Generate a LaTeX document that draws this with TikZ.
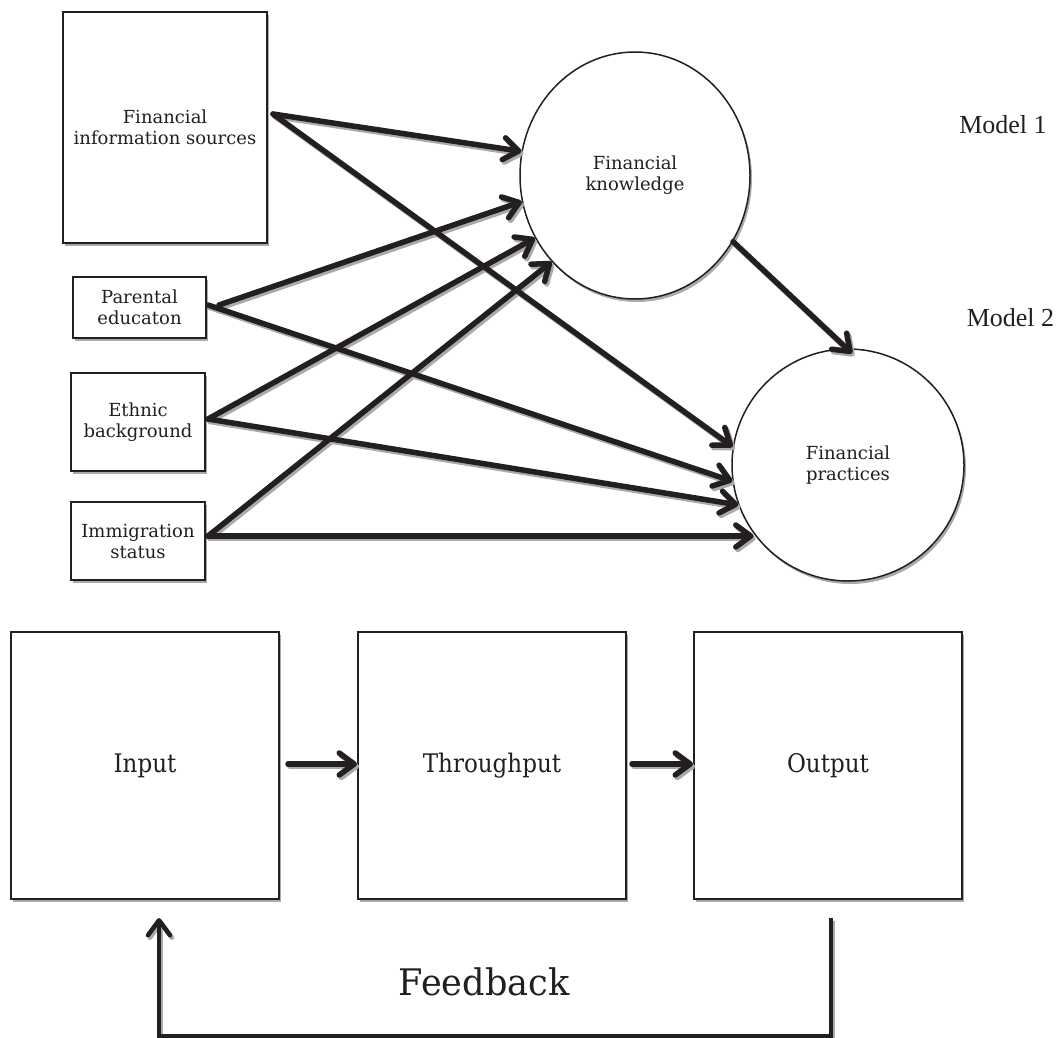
\documentclass[tikz,border=0pt]{standalone}
\usepackage{fontspec}
\setmainfont{DejaVu Serif}
\newfontfamily\timesf{Liberation Serif}
\newfontfamily\condf[FakeStretch=0.9]{DejaVu Serif}
\newfontfamily\fbf[FakeStretch=0.96]{DejaVu Serif}
\usetikzlibrary{arrows.meta,shadows,calc,shapes.geometric}
\definecolor{ink}{RGB}{35,31,32}
\definecolor{shade}{RGB}{170,170,170}
\newcommand\allarrows[2]{%
  \draw[#1] (fisout) -- (fk.168.7);
  \draw[#1] (fisout) -- (fp.171.1);
  \draw[#1] (peoutA) -- (fk.193.5);
  \draw[#1] (peoutB) -- (fp.188.4);
  \draw[#1] (ebout) -- (fk.212.3);
  \draw[#1] (ebout) -- (fp.200.8);
  \draw[#1] (imsout) -- (fk.226.2);
  \draw[#1] (imsout) -- (imsout -| fp.216);
  \draw[#1] (fk.326.4) -- ($(fp.88)+(0,5)$);
  \draw[#1] ($(inp.east)+(8,-1.5)$) -- ($(thr.west)+(0,-1.5)$);
  \draw[#1] ($(thr.east)+(5,-1.5)$) -- ($(out.west)+(0,-1.5)$);
  \draw[#2] (fbs) -- ++(0,118) -| (fbe);
}
\begin{document}
\begin{tikzpicture}[x=1pt,y=-1pt,
  shd/.style={drop shadow={shadow xshift=2pt,shadow yshift=-3pt,fill=shade,opacity=1}},
  lbl/.style={font=\fontsize{18}{21}\selectfont,text=ink,align=center},
  inbox/.style={rectangle,draw=ink,line width=2pt,fill=white,shd,inner sep=0pt,lbl},
  bigbox/.style={rectangle,draw=ink,line width=2pt,fill=white,shd,inner sep=0pt,
    minimum width=268pt,minimum height=267pt,font=\condf\fontsize{25.6}{30}\selectfont,text=ink},
  ovl/.style={ellipse,draw=ink,line width=1.5pt,fill=white,shd,inner sep=0pt,lbl},
  tipb/.tip={Straight Barb[length=15pt,width=22pt,line cap=round,line join=round]},
  arr/.style={draw=ink,line width=5.5pt,line cap=round,-tipb},
  arrshd/.style={draw=shade,line width=5.5pt,line cap=round,-tipb},
  fb/.style={draw=ink,line width=4.5pt,-tipb},
  fbshd/.style={draw=shade,line width=4.5pt,-tipb},
  mdl/.style={font=\timesf\fontsize{26}{30}\selectfont,text=ink,anchor=base}
]
\useasboundingbox (0,0) rectangle (1057,1038);
\fill[white] (0,0) rectangle (1057,1038);

% top model
\node[inbox,minimum width=204pt,minimum height=231pt] (fis) at (165,127.5) {Financial\\information sources};
\node[inbox,minimum width=133pt,minimum height=61pt] (pe) at (139.5,307.5) {Parental\\educaton};
\node[inbox,minimum width=134pt,minimum height=98pt] (eb) at (138,422) {Ethnic\\background};
\node[inbox,minimum width=134pt,minimum height=78pt] (ims) at (138,541) {Immigration\\status};

\node[ovl,minimum width=230pt,minimum height=247pt] (fk) at (635,175.5) {Financial\\knowledge};
\node[ovl,minimum width=232pt,minimum height=232pt] (fp) at (848,465) {Financial\\practices};

\node[mdl] (m1) at (1003,133) {Model 1};
\node[mdl] (m2) at (1010.5,326) {Model 2};

% bottom model
\node[bigbox] (inp) at (145,765.5) {Input};
\node[bigbox] (thr) at (492,765.5) {Throughput};
\node[bigbox] (out) at (828,765.5) {Output};

\coordinate (fisout) at ($(fis.east)+(5,-13.5)$);
\coordinate (peoutA) at ($(pe.east)+(12,-2.5)$);
\coordinate (peoutB) at ($(pe.east)+(1,-2.5)$);
\coordinate (ebout) at ($(eb.east)+(2,-3)$);
\coordinate (imsout) at ($(ims.east)+(2,-5)$);
\coordinate (fbs) at ($(out.south)+(3,18)$);
\coordinate (fbe) at ($(inp.south)+(14,18)$);

\begin{scope}[transform canvas={shift={(2pt,-2.5pt)}}]
  \allarrows{arrshd}{fbshd}
\end{scope}
\allarrows{arr}{fb}

\node[font=\fbf\fontsize{36.6}{40}\selectfont,text=ink,anchor=base] (fbl) at (484,995) {Feedback};
\end{tikzpicture}
\end{document}
